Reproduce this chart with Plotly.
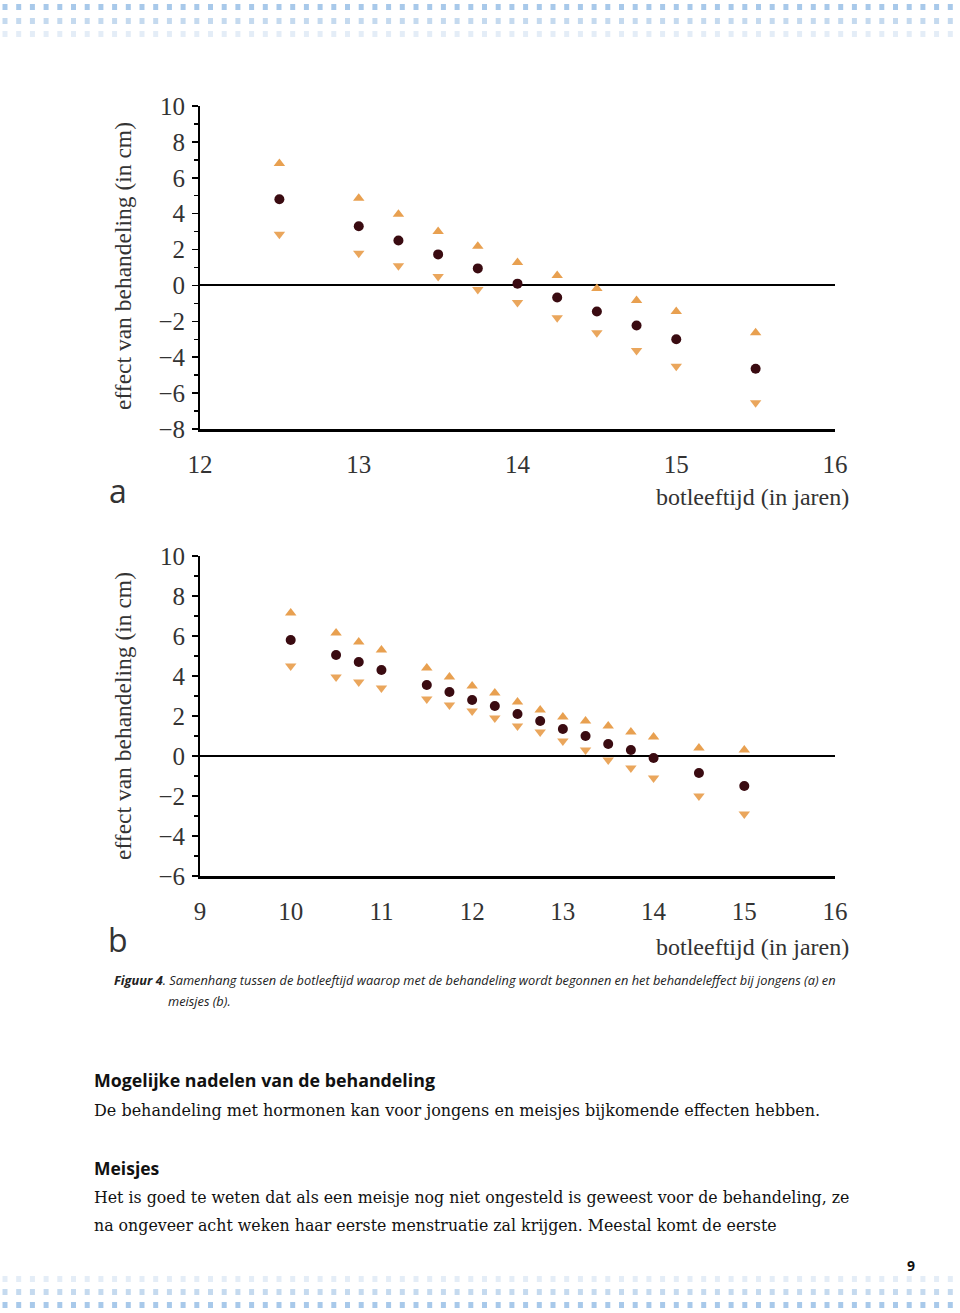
import plotly.graph_objects as go

# ---------------- data ----------------
# (a) jongens
a_age = [12.5, 13.0, 13.25, 13.5, 13.75, 14.0, 14.25, 14.5, 14.75, 15.0, 15.5]
a_mid = [4.8, 3.3, 2.5, 1.73, 0.95, 0.1, -0.67, -1.45, -2.23, -3.0, -4.64]
a_up = [6.8, 4.86, 3.97, 3.0, 2.18, 1.28, 0.56, -0.17, -0.84, -1.45, -2.63]
a_low = [2.85, 1.8, 1.1, 0.5, -0.22, -0.95, -1.8, -2.63, -3.63, -4.5, -6.54]

# (b) meisjes
b_age = [10.0, 10.5, 10.75, 11.0, 11.5, 11.75, 12.0, 12.25, 12.5, 12.75, 13.0, 13.25, 13.5, 13.75, 14.0, 14.5, 15.0]
b_mid = [5.8, 5.05, 4.7, 4.3, 3.55, 3.2, 2.8, 2.5, 2.1, 1.75, 1.35, 1.0, 0.6, 0.3, -0.1, -0.85, -1.5]
b_up = [7.15, 6.15, 5.7, 5.3, 4.4, 3.95, 3.5, 3.15, 2.7, 2.3, 1.95, 1.75, 1.5, 1.2, 0.95, 0.4, 0.3]
b_low = [4.5, 3.95, 3.7, 3.4, 2.85, 2.55, 2.25, 1.9, 1.5, 1.2, 0.75, 0.3, -0.2, -0.6, -1.1, -2.0, -2.9]

a_xticks = [12, 13, 14, 15, 16]
b_xticks = [9, 10, 11, 12, 13, 14, 15, 16]
a_yticks = [10, 8, 6, 4, 2, 0, -2, -4, -6, -8]
b_yticks = [10, 8, 6, 4, 2, 0, -2, -4, -6]

y_title = "effect van behandeling (in cm)"
x_title = "botleeftijd (in jaren)"

# ---------------- layout helpers ----------------
W, H = 960, 1313
def px(x):
    return x / W
def py(y):
    return 1 - y / H

DOT = "#3a0b11"
TRI_UP = "#e8a050"
TRI_DN = "#eaa65c"
SERIF = "Liberation Serif, Times New Roman, serif"
TXT = "#333333"

fig = go.Figure()

def add_panel(xs, mid, up, low, xa, ya):
    fig.add_trace(go.Scatter(x=xs, y=up, mode="markers", xaxis=xa, yaxis=ya,
                             marker=dict(symbol="triangle-up", size=10, color=TRI_UP),
                             showlegend=False, hoverinfo="skip"))
    fig.add_trace(go.Scatter(x=xs, y=low, mode="markers", xaxis=xa, yaxis=ya,
                             marker=dict(symbol="triangle-down", size=10, color=TRI_DN),
                             showlegend=False, hoverinfo="skip"))
    fig.add_trace(go.Scatter(x=xs, y=mid, mode="markers", xaxis=xa, yaxis=ya,
                             marker=dict(symbol="circle", size=10, color=DOT),
                             showlegend=False, hoverinfo="skip"))

add_panel(a_age, a_mid, a_up, a_low, "x", "y")
add_panel(b_age, b_mid, b_up, b_low, "x2", "y2")

# decorative dotted bands (page ornament) as paper shapes
shapes = []
band_rows = [(7, "#a8c9ea"), (21, "#c5daef"), (34, "#e4edf7"),
             (1279, "#e4edf7"), (1292, "#c5daef"), (1305, "#a8c9ea")]
for yy, col in band_rows:
    for i in range(70):
        cx = 5 + 13.7 * i
        shapes.append(dict(type="rect", xref="paper", yref="paper",
                           x0=px(cx - 2.5), x1=px(cx + 2.5),
                           y0=py(yy + 3), y1=py(yy - 3),
                           fillcolor=col, line=dict(width=0), layer="below"))

x_dom = [px(200), px(835)]
common_x = dict(showline=True, linecolor="black", linewidth=3, ticks="",
                showgrid=False, zeroline=False, ticklabelstandoff=11,
                tickfont=dict(family=SERIF, size=25, color=TXT), mirror=False)
common_y = dict(showline=True, linecolor="black", linewidth=2, ticks="outside",
                ticklen=6, tickwidth=1.5, tickcolor="black", showgrid=False,
                zeroline=True, zerolinecolor="black", zerolinewidth=2,
                ticklabelstandoff=2,
                minor=dict(dtick=1, ticks="outside", ticklen=4, tickcolor="black", showgrid=False),
                tickfont=dict(family=SERIF, size=25, color=TXT))

fig.update_layout(
    width=W, height=H,
    margin=dict(l=0, r=0, t=0, b=0, pad=0, autoexpand=False),
    paper_bgcolor="white", plot_bgcolor="rgba(0,0,0,0)",
    showlegend=False,
    xaxis=dict(domain=x_dom, range=[12, 16], tickvals=a_xticks, anchor="y", **common_x),
    yaxis=dict(domain=[py(429), py(106)], range=[-8, 10], tickvals=a_yticks, anchor="x", **common_y),
    xaxis2=dict(domain=x_dom, range=[9, 16], tickvals=b_xticks, anchor="y2", **common_x),
    yaxis2=dict(domain=[py(876), py(556)], range=[-6, 10], tickvals=b_yticks, anchor="x2", **common_y),
    shapes=shapes,
)

ann = []
# y-axis titles
for yc in [266, 716]:
    ann.append(dict(x=px(123), y=py(yc), xref="paper", yref="paper", text=y_title,
                    textangle=-90, showarrow=False, xanchor="center", yanchor="middle",
                    font=dict(family=SERIF, size=23.5, color=TXT)))
# x-axis titles
for yc in [497, 947]:
    ann.append(dict(x=px(851), y=py(yc), xref="paper", yref="paper", text=x_title,
                    showarrow=False, xanchor="right", yanchor="middle",
                    font=dict(family=SERIF, size=24, color=TXT)))
# panel letters
for letter, yc in [("a", 490), ("b", 939)]:
    ann.append(dict(x=px(118), y=py(yc), xref="paper", yref="paper", text=letter,
                    showarrow=False, xanchor="center", yanchor="middle",
                    font=dict(family="Open Sans, sans-serif", size=32, color="#333333")))

# caption
SANS = "Open Sans, Noto Sans, sans-serif"
ann.append(dict(x=px(112), y=py(980), xref="paper", yref="paper", showarrow=False,
                xanchor="left", yanchor="middle",
                text="<b><i>Figuur 4</i></b><i>. Samenhang tussen de botleeftijd waarop met de behandeling wordt begonnen en het behandeleffect bij jongens (a) en</i>",
                font=dict(family=SANS, size=12.8, color="#222222")))
ann.append(dict(x=px(166), y=py(1001), xref="paper", yref="paper", showarrow=False,
                xanchor="left", yanchor="middle", text="<i>meisjes (b).</i>",
                font=dict(family=SANS, size=12.8, color="#222222")))

# body text
BODY = "DejaVu Serif, serif"
ann.append(dict(x=px(92), y=py(1080), xref="paper", yref="paper", showarrow=False,
                xanchor="left", yanchor="middle", text="<b>Mogelijke nadelen van de behandeling</b>",
                font=dict(family=SANS, size=17.8, color="#111111")))
ann.append(dict(x=px(92), y=py(1110), xref="paper", yref="paper", showarrow=False,
                xanchor="left", yanchor="middle",
                text="De behandeling met hormonen kan voor jongens en meisjes bijkomende effecten hebben.",
                font=dict(family=BODY, size=16, color="#111111")))
ann.append(dict(x=px(92), y=py(1168), xref="paper", yref="paper", showarrow=False,
                xanchor="left", yanchor="middle", text="<b>Meisjes</b>",
                font=dict(family=SANS, size=17.5, color="#111111")))
ann.append(dict(x=px(92), y=py(1197), xref="paper", yref="paper", showarrow=False,
                xanchor="left", yanchor="middle",
                text="Het is goed te weten dat als een meisje nog niet ongesteld is geweest voor de behandeling, ze",
                font=dict(family=BODY, size=15.8, color="#111111")))
ann.append(dict(x=px(92), y=py(1225), xref="paper", yref="paper", showarrow=False,
                xanchor="left", yanchor="middle",
                text="na ongeveer acht weken haar eerste menstruatie zal krijgen. Meestal komt de eerste",
                font=dict(family=BODY, size=15.8, color="#111111")))
ann.append(dict(x=px(911), y=py(1265), xref="paper", yref="paper", showarrow=False,
                xanchor="center", yanchor="middle", text="<b>9</b>",
                font=dict(family=SANS, size=14, color="#111111")))

fig.update_layout(annotations=ann)

fig.write_html("out.html", include_plotlyjs=True,
               config={"displayModeBar": False, "staticPlot": True},
               post_script="document.body.style.margin='0';document.body.style.overflow='hidden';")
